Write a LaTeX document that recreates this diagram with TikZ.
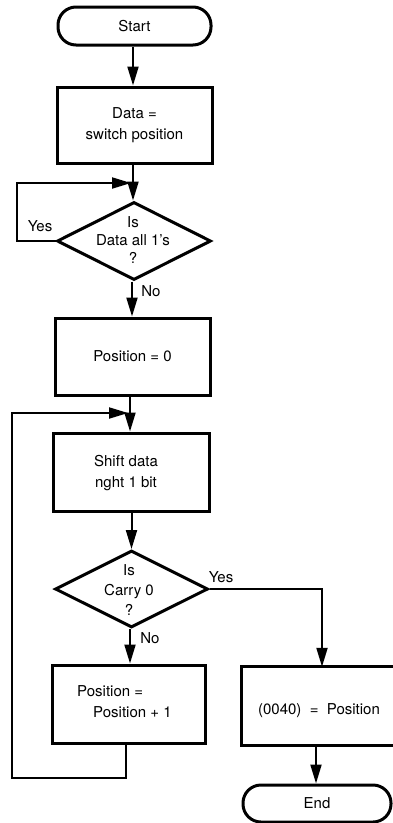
\documentclass[tikz,border=0pt]{standalone}
\usepackage{fontspec}
\setmainfont{TeX Gyre Heros}
\usetikzlibrary{arrows.meta,shapes.geometric}
\begin{document}
\begin{tikzpicture}[x=1pt,y=1pt,
  every node/.style={font=\fontsize{15}{21}\selectfont},
  procbox/.style={draw,line width=3pt,rectangle,inner sep=0pt,align=center},
  openbox/.style={rectangle,inner sep=0pt,align=center},
  termbox/.style={draw,line width=3pt,rectangle,rounded corners=18pt,inner sep=0pt,align=center},
  decbox/.style={draw,line width=3pt,diamond,inner sep=0pt},
  lbl/.style={inner sep=0pt,align=center},
  border/.style={line width=3pt},
  arr/.style={line width=2pt,-{Triangle[length=19pt,width=11pt]}}
]
\useasboundingbox (0,0) rectangle (393,-823);

\node[termbox,minimum width=153pt,minimum height=38pt] (start) at (134.5,-26) {Start};
\node[procbox,minimum width=155pt,minimum height=76pt] (box1) at (134.5,-125) {Data =\\switch position};
\node[decbox,minimum width=154pt,minimum height=78pt] (d1) at (134,-241) {};
\node[lbl,font=\fontsize{15}{18}\selectfont] (d1t) at (133,-240) {Is\\Data all 1's\\?};
\node[procbox,minimum width=155pt,minimum height=77pt] (box2) at (132.5,-356.5) {Position = 0};
\node[procbox,minimum width=156pt,minimum height=78pt] (box3) at (131,-472) {};
\node[lbl] (box3t) at (126,-473) {Shift data\\nght 1 bit};
\node[decbox,minimum width=153pt,minimum height=77pt] (d2) at (131.5,-589) {};
\node[lbl,font=\fontsize{15}{20}\selectfont] (d2t) at (129,-590) {Is\\Carry 0\\?};
\node[procbox,minimum width=153pt,minimum height=78pt] (box4) at (128.5,-704) {};
\node[lbl,align=left,anchor=west] (box4t) at (77,-702) {Position =\\\hspace*{16pt}Position + 1};
\node[openbox,minimum width=166pt,minimum height=78pt] (box5) at (325,-706) {};
\draw[border,line join=miter] (box5.north east) -- (box5.north west) -- (box5.south west) -- (box5.south east);
\node[lbl] (box5t) at (319,-711) {(0040) \ = \ Position};
\node[termbox,minimum width=148pt,minimum height=37pt] (end) at (317,-803.5) {End};

\node[lbl] (yes1) at (40,-226) {Yes};
\node[lbl] (no1) at (151,-291) {No};
\node[lbl] (yes2) at (221,-577) {Yes};
\node[lbl] (no2) at (150,-638) {No};

\coordinate (j1) at (131,-183);
\coordinate (l1) at (17,-183);
\coordinate (j2) at (128,-413);
\coordinate (l2) at (12,-413);
\coordinate (b2) at (126,-778);

\draw[arr] (start.south -| 133,0) -- (box1.north -| 133,0);
\draw[arr] (box1.south -| 133,0) -- (d1.north -| 133,0);
\draw[arr] (d1.west) -| (l1) -- (j1);
\draw[arr] (d1.south -| 132,0) -- (box2.north -| 132,0);
\draw[arr] (box2.south -| 130,0) -- (box3.north -| 130,0);
\draw[arr] (box4.south -| b2) -- (b2) -| (l2) -- (j2);
\draw[arr] (box3.south -| 131.5,0) -- (d2.north);
\draw[arr] (d2.south -| 130,0) -- (box4.north -| 130,0);
\draw[arr] (d2.east) -| (box5.north -| 322,0);
\draw[arr] (box5.south -| 316,0) -- (end.north -| 316,0);
\end{tikzpicture}
\end{document}
